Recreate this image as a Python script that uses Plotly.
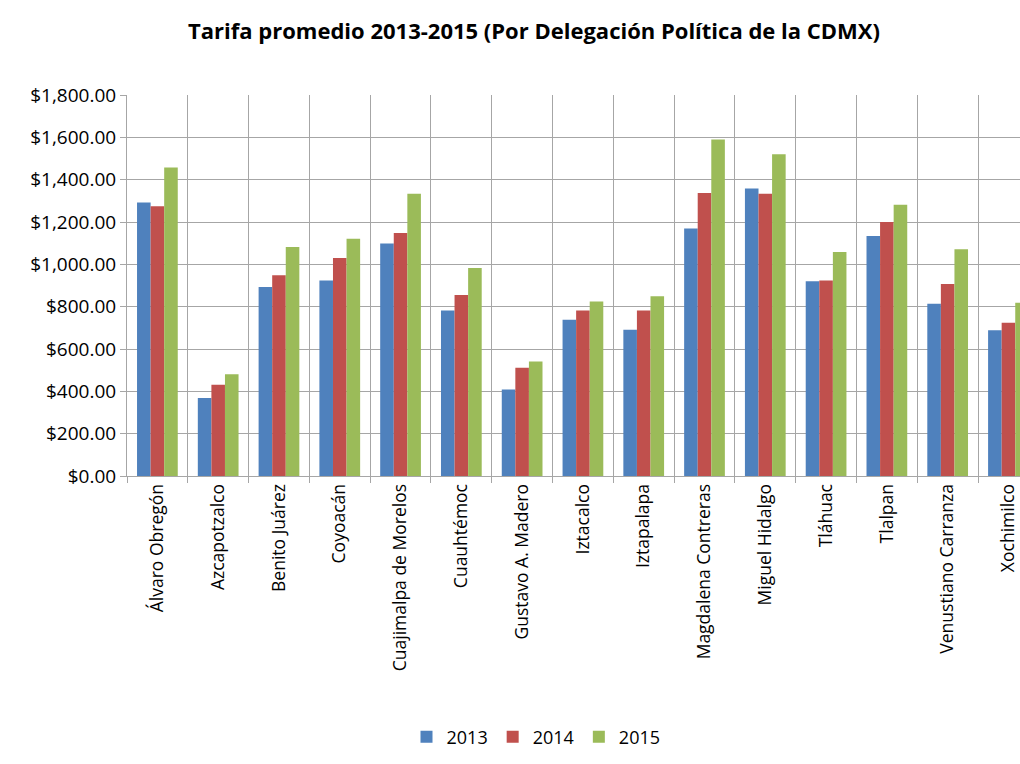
import plotly.graph_objects as go

categorias = ["Álvaro Obregón", "Azcapotzalco", "Benito Juárez", "Coyoacán",
              "Cuajimalpa de Morelos", "Cuauhtémoc", "Gustavo A. Madero", "Iztacalco",
              "Iztapalapa", "Magdalena Contreras", "Miguel Hidalgo", "Tláhuac",
              "Tlalpan", "Venustiano Carranza", "Xochimilco"]
v2013 = [1292, 368, 893, 924, 1098, 782, 409, 738, 691, 1169, 1358, 920, 1134, 814, 688]
v2014 = [1274, 431, 948, 1030, 1148, 855, 512, 782, 782, 1337, 1334, 924, 1200, 907, 724]
v2015 = [1457, 481, 1082, 1121, 1334, 983, 541, 825, 849, 1590, 1520, 1058, 1282, 1071, 819]
series = [("2013", v2013, "#4F81BD"), ("2014", v2014, "#C0504D"), ("2015", v2015, "#9BBB59")]
yticks = [0, 200, 400, 600, 800, 1000, 1200, 1400, 1600, 1800]

fig = go.Figure()
for name, vals, col in series:
    fig.add_trace(go.Bar(x=categorias, y=vals, name=name, marker_color=col,
                         marker_line_width=0))

font_family = "Open Sans"
W, H = 1020, 764
fig.update_layout(
    width=W, height=H,
    margin=dict(l=127, r=0, t=95, b=288),
    paper_bgcolor="white", plot_bgcolor="white",
    barmode="group", bargap=0.33, bargroupgap=0,
    title=dict(text="<b>Tarifa promedio 2013-2015 (Por Delegación Política de la CDMX)</b>",
               x=534 / W, xref="container", xanchor="center",
               y=1 - 31 / H, yanchor="middle",
               font=dict(family=font_family, size=22, color="#000000")),
    font=dict(family=font_family, color="#000000"),
    legend=dict(orientation="h", xref="container", x=536 / W, xanchor="center",
                yref="container", y=1 - 737 / H, yanchor="middle",
                font=dict(family=font_family, size=18, color="#000000"),
                itemwidth=30, traceorder="normal"),
    showlegend=True,
)
fig.update_xaxes(range=[-0.5, 14.19], tickson="boundaries", showgrid=True,
                 gridcolor="#A6A6A6", gridwidth=1, ticks="outside", ticklen=6,
                 tickcolor="#A6A6A6", showline=True, linecolor="#A6A6A6",
                 tickangle=-90, tickfont=dict(family=font_family, size=17.5, color="#000000"),
                 fixedrange=True)
fig.update_yaxes(range=[0, 1800], tickvals=yticks, tickformat="$,.2f",
                 showgrid=True, gridcolor="#A6A6A6", gridwidth=1,
                 ticks="outside", ticklen=6, tickcolor="#A6A6A6",
                 showline=True, linecolor="#A6A6A6", zeroline=False,
                 tickfont=dict(family=font_family, size=19, color="#000000"),
                 fixedrange=True)

fig.write_html("out.html", config={"displayModeBar": False},
               post_script="document.body.style.margin='0';document.body.style.overflow='hidden';")
